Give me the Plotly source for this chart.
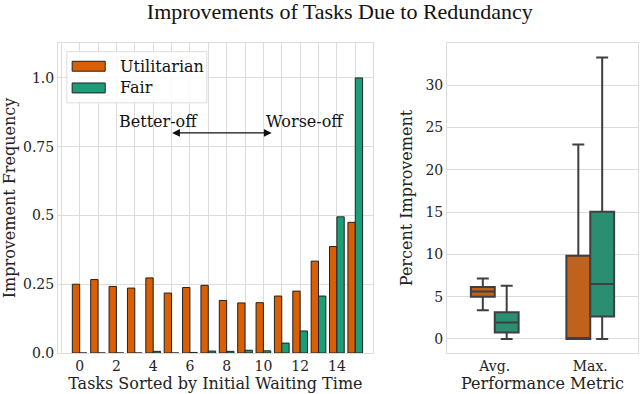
import plotly.graph_objects as go

# left panel: improvement frequency per task (sorted by initial waiting time)
tasks = list(range(16))
utilitarian_freq = [0.25, 0.267, 0.242, 0.236, 0.273, 0.218, 0.238, 0.246,
                    0.191, 0.182, 0.183, 0.207, 0.225, 0.334, 0.387, 0.475]
fair_freq = [0.0, 0.0, 0.0, 0.0, 0.006, 0.0, 0.002, 0.007,
             0.006, 0.010, 0.008, 0.036, 0.080, 0.207, 0.495, 1.0]
freq_ticks = [0, 0.25, 0.5, 0.75, 1.0]
freq_ticktext = ["0.0", "0.25", "0.5", "0.75", "1.0"]
task_ticks = [0, 2, 4, 6, 8, 10, 12, 14]

# right panel: percent improvement box stats
metrics = ["Avg.", "Max."]
util_q1 = [5.0, 0.0]
util_med = [5.6, 0.0]
util_q3 = [6.15, 9.85]
util_lo = [3.4, 0.0]
util_hi = [7.15, 23.0]
fair_q1 = [0.75, 2.65]
fair_med = [1.95, 6.5]
fair_q3 = [3.15, 15.05]
fair_lo = [0.0, 0.0]
fair_hi = [6.3, 33.3]
pct_ticks = [0, 5, 10, 15, 20, 25, 30]

ORANGE = "#d95f02"
GREEN = "#1b9e77"
ORANGE_BOX = "#be621d"
GREEN_BOX = "#2b8e70"
GRID = "#dcdcdc"
SERIF = "DejaVu Serif"

fig = go.Figure()

fig.add_trace(go.Bar(x=tasks, y=utilitarian_freq, name="Utilitarian",
                     marker=dict(color=ORANGE, line=dict(color="#222", width=1)),
                     offsetgroup="u", xaxis="x", yaxis="y", showlegend=False))
fig.add_trace(go.Bar(x=tasks, y=fair_freq, name="Fair",
                     marker=dict(color=GREEN, line=dict(color="#222", width=1)),
                     offsetgroup="f", xaxis="x", yaxis="y", showlegend=False))

fig.add_trace(go.Box(x=metrics, q1=util_q1, median=util_med, q3=util_q3,
                     lowerfence=util_lo, upperfence=util_hi, name="Utilitarian",
                     fillcolor=ORANGE_BOX, line=dict(color="#3f3f3f", width=2),
                     whiskerwidth=0.5, offsetgroup="u", xaxis="x2", yaxis="y2",
                     showlegend=False))
fig.add_trace(go.Box(x=metrics, q1=fair_q1, median=fair_med, q3=fair_q3,
                     lowerfence=fair_lo, upperfence=fair_hi, name="Fair",
                     fillcolor=GREEN_BOX, line=dict(color="#3f3f3f", width=2),
                     whiskerwidth=0.5, offsetgroup="f", xaxis="x2", yaxis="y2",
                     showlegend=False))

tick_font = dict(family=SERIF, size=14, color="#222")
label_font = dict(family=SERIF, size=16, color="#222")
note_font = dict(family=SERIF, size=16, color="#111")

fig.update_layout(
    width=640, height=394,
    margin=dict(l=58, r=2, t=43, b=41),
    paper_bgcolor="white", plot_bgcolor="white",
    barmode="group", bargap=0.2, bargroupgap=0,
    boxmode="group", boxgap=0.5, boxgroupgap=0,
    font=dict(family=SERIF, size=14, color="#222"),
    title=dict(text="Improvements of Tasks Due to Redundancy", x=0.531,
               xref="container", xanchor="center", y=0.972, yref="container",
               yanchor="middle",
               font=dict(family="Liberation Serif", size=22, color="#111")),
    xaxis=dict(domain=[0, 0.5426], range=[-1.18, 15.95], tickvals=task_ticks,
               showgrid=True, gridcolor=GRID, gridwidth=1,
               minor=dict(dtick=1, tick0=0, showgrid=True, gridcolor=GRID, gridwidth=1),
               showline=True, mirror=True, linecolor=GRID, linewidth=1,
               ticks="", zeroline=False, tickfont=tick_font,
               title=dict(text="Tasks Sorted by Initial Waiting Time", font=label_font,
                          standoff=2)),
    yaxis=dict(range=[0, 1.127], tickvals=freq_ticks, ticktext=freq_ticktext,
               showgrid=True, gridcolor=GRID, gridwidth=1,
               showline=True, mirror=True, linecolor=GRID, linewidth=1,
               ticks="", zeroline=False, tickfont=tick_font,
               title=dict(text="Improvement Frequency", font=label_font, standoff=6)),
    xaxis2=dict(domain=[0.6707, 1.0], range=[-0.5, 1.5], anchor="y2",
                showgrid=False, showline=True, mirror=True, linecolor=GRID,
                linewidth=1, ticks="", tickfont=tick_font,
                title=dict(text="Performance Metric", font=label_font, standoff=2)),
    yaxis2=dict(anchor="x2", range=[-1.66, 35.0], tickvals=pct_ticks,
                showgrid=True, gridcolor=GRID, gridwidth=1,
                showline=True, mirror=True, linecolor=GRID, linewidth=1,
                ticks="", zeroline=False, tickfont=tick_font,
                title=dict(text="Percent Improvement", font=label_font, standoff=8)),
)

# double-headed arrow and labels
fig.add_annotation(x=10.45, y=0.8, ax=4.95, ay=0.8, xref="x", yref="y",
                   axref="x", ayref="y", text="", showarrow=True,
                   arrowside="end+start", arrowhead=2, arrowsize=1.2,
                   arrowwidth=1.3, arrowcolor="#111")
fig.add_annotation(x=4.28, y=0.841, xref="x", yref="y", text="Better-off",
                   showarrow=False, xanchor="center", yanchor="middle", font=note_font)
fig.add_annotation(x=12.27, y=0.841, xref="x", yref="y", text="Worse-off",
                   showarrow=False, xanchor="center", yanchor="middle", font=note_font)

# legend box drawn in the left panel's domain coordinates
fig.add_shape(type="rect", xref="x domain", yref="y domain",
              x0=0.028, x1=0.473, y0=0.807, y1=0.972,
              line=dict(color=GRID, width=1), fillcolor="rgba(255,255,255,0.85)")
legend_items = [("Utilitarian", ORANGE, 0.925), ("Fair", GREEN, 0.855)]
for label, color, yc in legend_items:
    fig.add_shape(type="rect", xref="x domain", yref="y domain",
                  x0=0.045, x1=0.15, y0=yc - 0.016, y1=yc + 0.016,
                  line=dict(color="#222", width=1), fillcolor=color)
    fig.add_annotation(xref="x domain", yref="y domain", x=0.19, y=yc,
                       text=label, showarrow=False, xanchor="left",
                       yanchor="middle", font=note_font)

# drop the browser's default body margin so the figure sits at the page corner
fig.write_html("out.html", config={"displayModeBar": False},
               post_script="document.body.style.margin='0';")
